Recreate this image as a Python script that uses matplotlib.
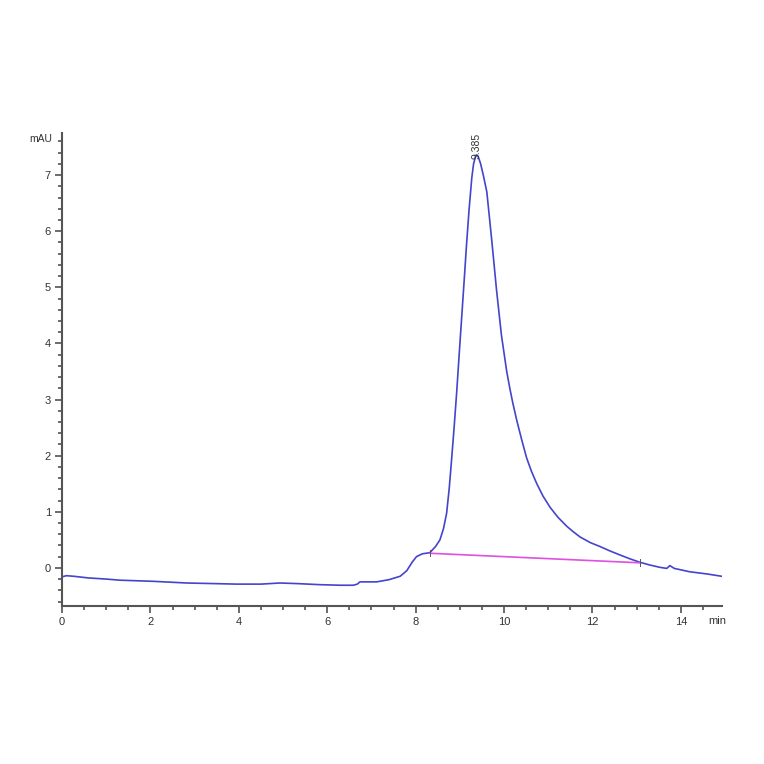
import matplotlib.pyplot as plt
from matplotlib.ticker import MultipleLocator

# chromatogram trace (min, mAU)
time_min = [0.0, 0.1, 0.26, 0.6, 1.0, 1.31, 2.06, 2.82, 3.4, 3.95, 4.5, 4.93, 5.3,
            5.84, 6.3, 6.59, 6.68, 6.74, 7.12, 7.40, 7.65, 7.80, 7.92, 8.02, 8.15,
            8.32, 8.45, 8.55, 8.63, 8.70, 8.76, 8.81, 8.87, 8.93, 8.98, 9.04, 9.10,
            9.15, 9.21, 9.27, 9.31, 9.35, 9.385, 9.42, 9.47, 9.53, 9.61, 9.72, 9.83,
            9.94, 10.06, 10.13, 10.20, 10.29, 10.40, 10.51, 10.62, 10.74, 10.88,
            11.04, 11.22, 11.42, 11.57, 11.72, 11.95, 12.17, 12.40, 12.62, 12.85,
            13.07, 13.30, 13.52, 13.68, 13.75, 13.85, 14.2, 14.6, 14.92]
signal_mau = [-0.16, -0.14, -0.15, -0.18, -0.20, -0.22, -0.24, -0.27, -0.28, -0.29,
              -0.29, -0.27, -0.28, -0.30, -0.31, -0.31, -0.29, -0.25, -0.25, -0.21,
              -0.15, -0.05, 0.10, 0.20, 0.25, 0.27, 0.38, 0.50, 0.70, 0.97, 1.42,
              1.90, 2.50, 3.15, 3.75, 4.45, 5.15, 5.75, 6.40, 6.95, 7.20, 7.32, 7.36,
              7.32, 7.20, 7.00, 6.70, 5.85, 4.95, 4.15, 3.50, 3.20, 2.93, 2.62, 2.28,
              1.96, 1.72, 1.50, 1.28, 1.08, 0.90, 0.74, 0.64, 0.55, 0.45, 0.38, 0.30,
              0.23, 0.16, 0.10, 0.05, 0.01, -0.01, 0.04, -0.01, -0.07, -0.11, -0.15]

# integration baseline
base_x = [8.32, 13.07]
base_y = [0.26, 0.09]

peak_rt = 9.385
peak_h = 7.36

plt.rcParams['font.family'] = ['Liberation Sans', 'DejaVu Sans']

fig = plt.figure(figsize=(7.64, 7.64), dpi=100)
ax = fig.add_axes([62/764, 1 - 606/764, 660/764, 473/764])

ax.plot(time_min, signal_mau, color='#4444cc', lw=1.2)
ax.plot(base_x, base_y, color='#e050e0', lw=1.2)
# small marks at baseline ends
for bx, by in zip(base_x, base_y):
    ax.plot([bx, bx], [by - 0.05, by + 0.06], color='#555555', lw=0.7)

ax.text(peak_rt, peak_h - 0.08, '9.385', rotation=90, ha='center', va='bottom',
        fontsize=7.5, color='#333333')

ax.set_xlim(0, 14.93)
ax.set_ylim(-0.68, 7.75)

ax.xaxis.set_major_locator(MultipleLocator(2))
ax.xaxis.set_minor_locator(MultipleLocator(0.5))
ax.yaxis.set_major_locator(MultipleLocator(1))
ax.yaxis.set_minor_locator(MultipleLocator(0.2))

for s in ['top', 'right']:
    ax.spines[s].set_visible(False)
for s in ['left', 'bottom']:
    ax.spines[s].set_color('#555555')
    ax.spines[s].set_linewidth(1.5)

ax.tick_params(which='major', length=5, width=1.1, color='#444444',
               labelsize=8, labelcolor='#333333', pad=3)
ax.tick_params(which='minor', length=3, width=1.1, color='#444444')

ax.text(-0.22, 7.64, 'mAU', ha='right', va='center', fontsize=7.5, color='#333333')
ax.text(14.62, -0.86, 'min', ha='left', va='top', fontsize=8, color='#333333')

fig.savefig('out.png', dpi=100)
